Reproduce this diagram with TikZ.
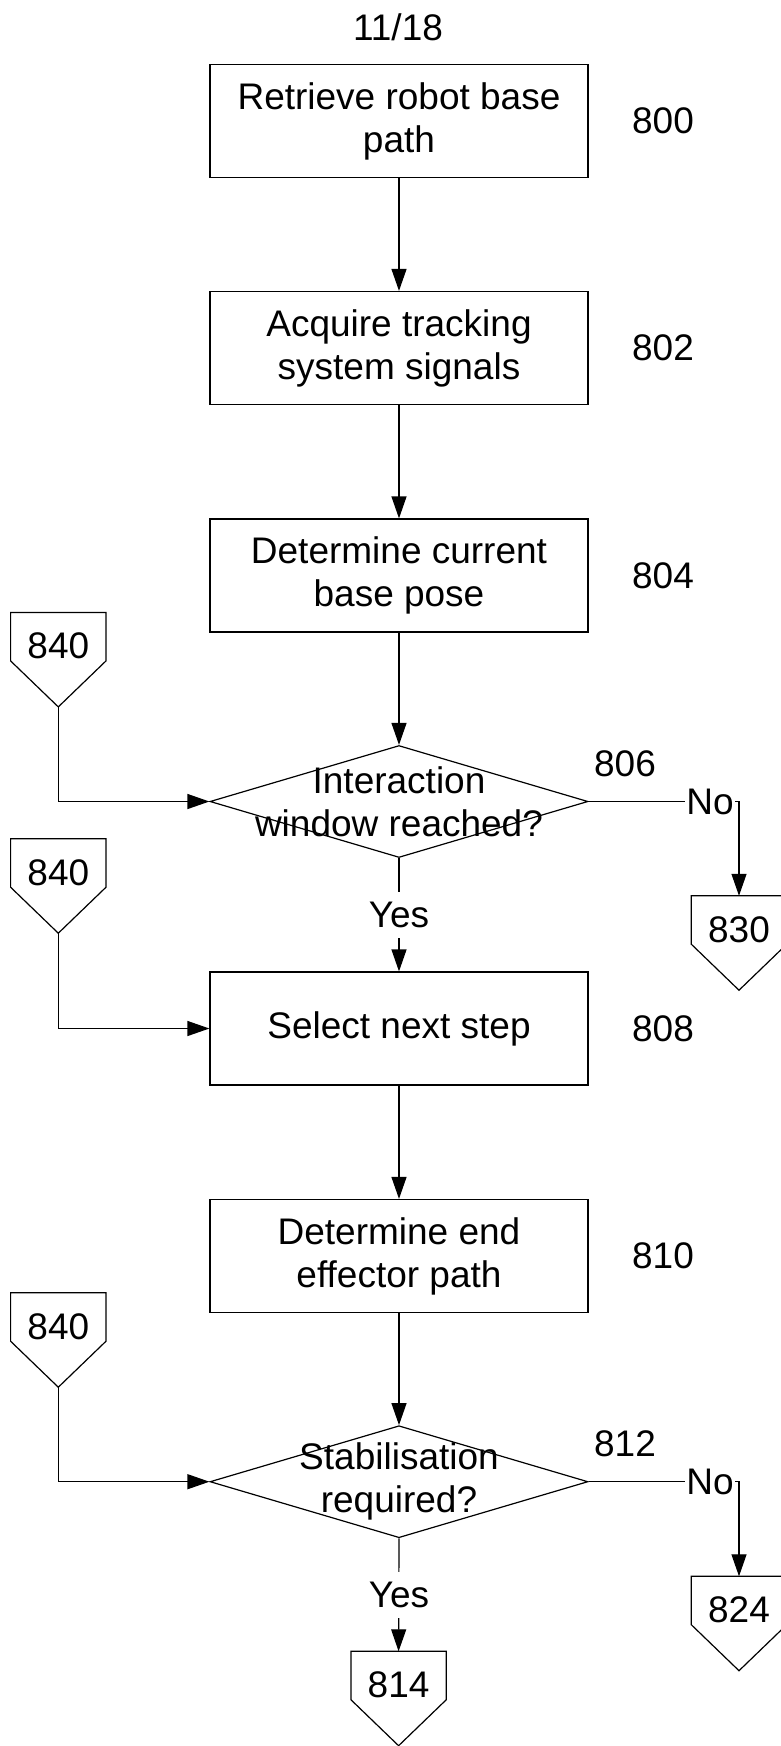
\documentclass[tikz,border=0pt]{standalone}
\usepackage{fontspec}
\setmainfont{Liberation Sans}
\usetikzlibrary{arrows.meta,shapes.geometric,calc}
\begin{document}
\begin{tikzpicture}[x=1pt,y=-1pt,
 every node/.style={font=\fontsize{37}{43}\selectfont},
 box/.style={draw,line width=1.2pt,minimum width=378pt,minimum height=113pt,align=center,inner sep=0pt},
 dia/.style={draw,line width=1.2pt,diamond,minimum width=378pt,minimum height=112pt,inner sep=0pt},
 txt/.style={align=center,inner sep=0pt},
 offp/.style={minimum width=95pt,minimum height=48pt,inner sep=0pt,text height=44pt,text depth=0pt},
 lbl/.style={inner sep=0pt},
 yn/.style={fill=white,inner xsep=1pt,inner ysep=10pt},
 arr/.style={line width=1.2pt,-{Triangle[length=22pt,width=15pt]}},
 ln/.style={line width=1.2pt}]
\useasboundingbox (0,0) rectangle (781,1746);
\fill[white] (0,0) rectangle (781,1746);

\node[lbl] (t1118) at (398,27) {11/18};

\node[box] (b800) at (399,121) {Retrieve robot base\\path};
\node[box] (b802) at (399,348) {Acquire tracking\\system signals};
\node[box] (b804) at (399,575.5) {Determine current\\base pose};
\node[dia] (d806) at (399,801.5) {};
\node[txt] (t806) at (399,801.5) {Interaction\\window reached?};
\node[box] (b808) at (399,1028.5) {Select next step};
\node[box] (b810) at (399,1256) {Determine end\\effector path};
\node[dia] (d812) at (399,1481.7) {};
\node[txt] (t812) at (399,1481.7) {Stabilisation\\required?};

\node[lbl] (l800) at (663,121) {800};
\node[lbl] (l802) at (663,348) {802};
\node[lbl] (l804) at (663,575.5) {804};
\node[lbl] (l806) at (625,764) {806};
\node[lbl] (l808) at (663,1028.5) {808};
\node[lbl] (l810) at (663,1256) {810};
\node[lbl] (l812) at (625,1443.3) {812};

\node[offp] (c840a) at (58.3,636.7) {840};
\node[offp] (c840b) at (58.3,863) {840};
\node[offp] (c840c) at (58.3,1317) {840};
\node[offp] (c830) at (739,920) {830};
\node[offp] (c824) at (739,1600.5) {824};
\node[offp] (c814) at (398.6,1675.5) {814};

\foreach \n in {c840a,c840b,c840c,c830,c824,c814} {
  \coordinate (\n-tip) at ($(\n.south)+(0,46)$);
  \draw[ln] (\n.north west) -- (\n.north east) -- (\n.south east) -- (\n-tip) -- (\n.south west) -- cycle;
}

\draw[arr] (b800.south) -- (b802.north);
\draw[arr] (b802.south) -- (b804.north);
\draw[arr] (b804.south) -- (d806.north);
\draw[arr] (d806.south) -- (b808.north);
\draw[arr] (b808.south) -- (b810.north);
\draw[arr] (b810.south) -- (d812.north);
\draw[arr] (d812.south) -- (c814.north);
\draw[arr] (d806.east) -| (c830.north);
\draw[arr] (d812.east) -| (c824.north);
\draw[arr] (c840a-tip) |- (d806.west);
\draw[arr] (c840b-tip) |- (b808.west);
\draw[arr] (c840c-tip) |- (d812.west);

\node[yn] (y806) at (399,915) {Yes};
\node[yn] (n806) at (710,801.5) {No};
\node[yn] (y812) at (399,1595) {Yes};
\node[yn] (n812) at (710,1481.7) {No};
\end{tikzpicture}
\end{document}
